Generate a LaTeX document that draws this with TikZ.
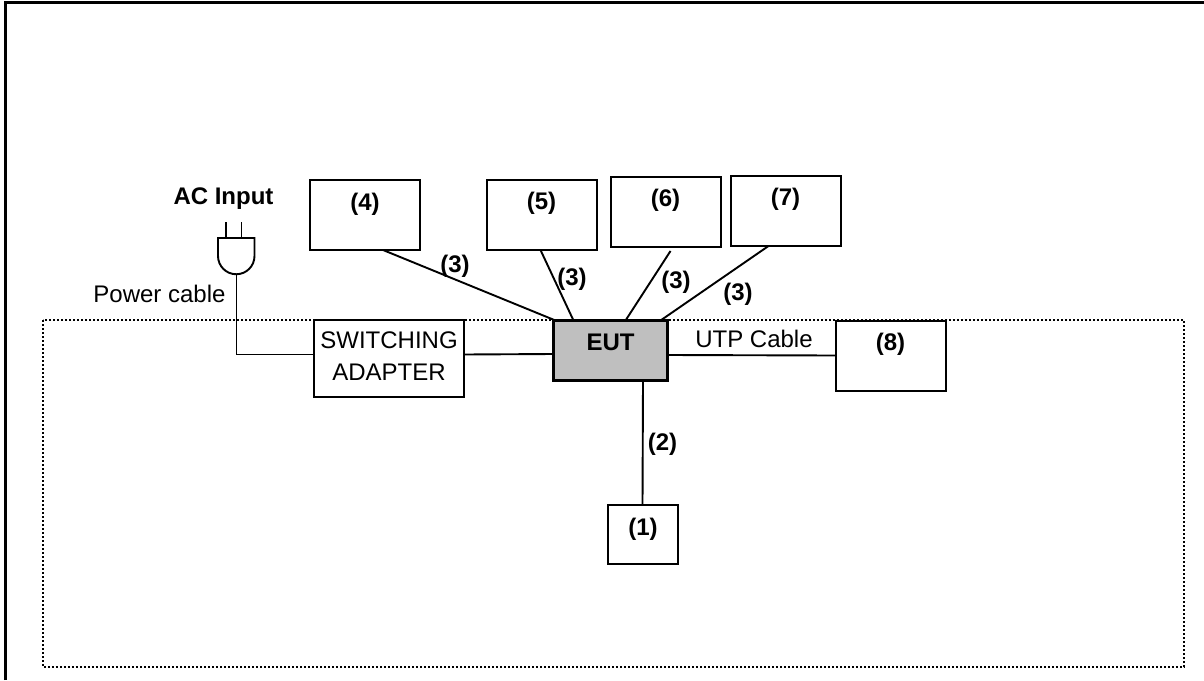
\documentclass[tikz,border=0pt]{standalone}
\usepackage{fontspec}
\setmainfont{Liberation Sans}
\usepackage{tikz}
\usetikzlibrary{positioning}
\tikzset{
  devbox/.style={draw, line width=2pt, outer sep=0pt, anchor=north west, inner sep=0pt, font=\fontsize{24}{28}\selectfont\bfseries, text height=29.5pt, text depth=#1, align=center},
  devbox/.default=40.5pt,
  lbl/.style={inner sep=0pt, font=\fontsize{24}{28}\selectfont\bfseries},
  txt/.style={inner sep=0pt, font=\fontsize{24}{28}\selectfont},
  cable/.style={line width=1.9pt}
}
\begin{document}
\begin{tikzpicture}[x=1pt,y=-1pt]
\useasboundingbox (0,0) rectangle (1204,680);
\draw[line width=3pt] (5.5,680) -- (5.5,2.5) -- (1204,2.5);
\draw[line width=1.6pt, dash pattern=on 1.6pt off 2.4pt] (43,320) rectangle (1184,667);
\node[devbox=16.5pt, text height=60.5pt, minimum width=150pt, font=\fontsize{24}{32.5}\selectfont] (adapter) at (314,320) {SWITCHING\\ADAPTER};
\node[devbox=39.5pt, text height=30.5pt, minimum width=110pt] (dev4) at (310,180) {(4)};
\node[devbox, minimum width=110pt] (dev5) at (486.5,180) {(5)};
\node[devbox, minimum width=110pt] (dev6) at (610.5,177) {(6)};
\node[devbox, minimum width=110pt] (dev7) at (730.5,176) {(7)};
\node[devbox, minimum width=110pt] (dev8) at (835.5,321) {(8)};
\node[devbox=29pt, text height=30.5pt, minimum width=70pt] (dev1) at (608,504.5) {(1)};
\node[devbox=30.5pt, line width=3pt, fill=black!25, minimum width=114pt] (eut) at (553.5,320.5) {EUT};
\node[lbl] (ac) at (223.5,198.5) {AC Input};
\node[txt] (power) at (159.5,293.5) {Power cable};
\node[txt] (utp) at (754,339) {UTP Cable};
\node[lbl] (l34) at (455,266) {(3)};
\node[lbl] (l35) at (572,279) {(3)};
\node[lbl] (l36) at (676,282) {(3)};
\node[lbl] (l37) at (738,294) {(3)};
\node[lbl] (l2) at (662.5,444) {(2)};
% plug
\coordinate (plugtip) at (236.5,274.5);
\draw[cable] (218,238) -- (254.5,238) -- (254.5,256) arc[start angle=0, end angle=180, x radius=18.25pt, y radius=-18.25pt] -- cycle;
\draw[cable] (226,222) -- (226,238);
\draw[cable] (241.5,222) -- (241.5,238);
% cables
\draw[cable] (plugtip) |- ([yshift=4pt] adapter.west);
\draw[cable] ([yshift=4pt] adapter.east) -- ([yshift=-3.5pt] eut.west);
\draw[cable] ([yshift=-4.5pt] eut.east) -- ([yshift=0.5pt] dev8.west);
\draw[cable] ([xshift=32.5pt] eut.south) -- ([xshift=-0.5pt] dev1.north);
\draw[cable] ([xshift=18pt] dev4.south) -- ([xshift=-55pt] eut.north);
\draw[cable] ([xshift=-1pt] dev5.south) -- ([xshift=-37pt] eut.north);
\draw[cable] ([xshift=5pt, yshift=-4pt] dev6.south) -- ([xshift=15pt] eut.north);
\draw[cable] ([xshift=-17pt] dev7.south) -- ([xshift=50pt] eut.north);
\end{tikzpicture}
\end{document}
